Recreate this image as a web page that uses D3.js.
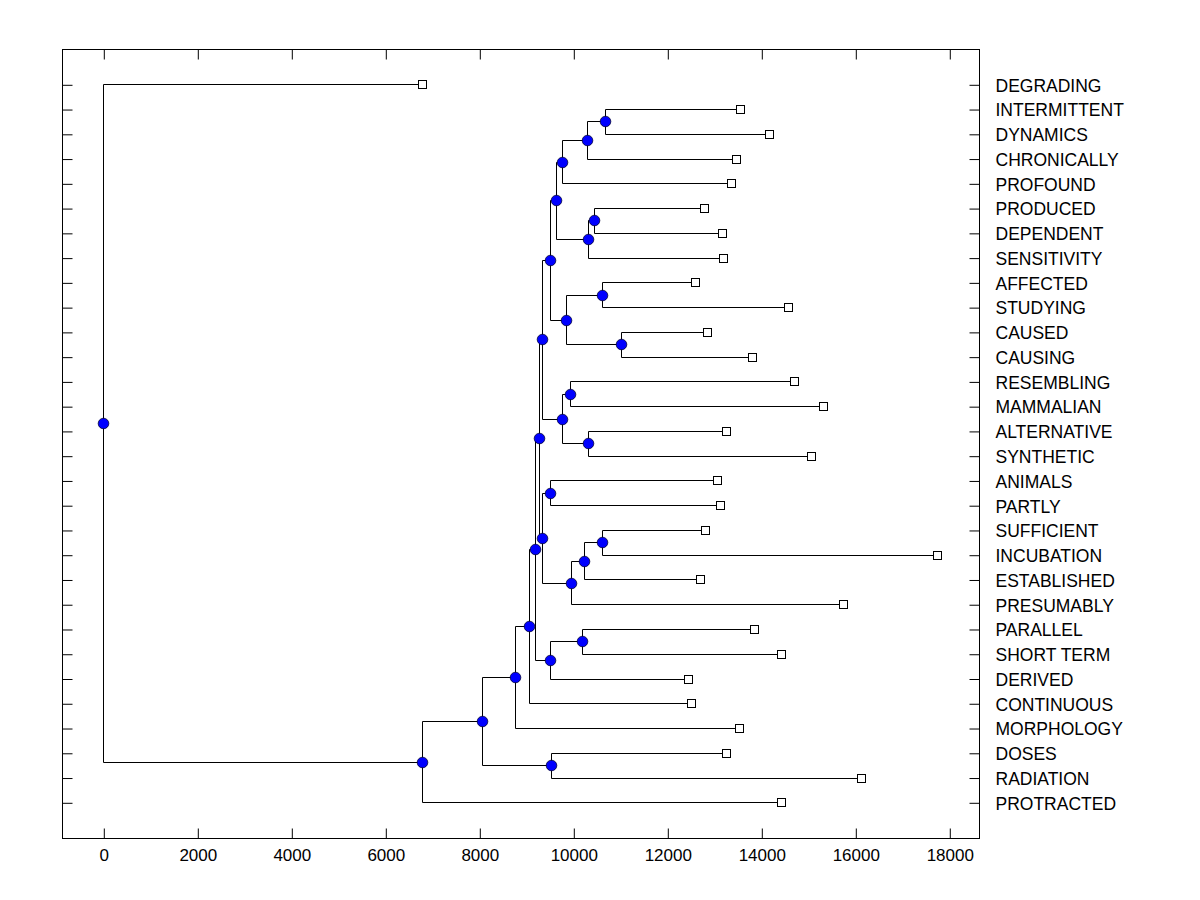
<!DOCTYPE html>
<html>
<head>
<meta charset="utf-8">
<script src="https://cdn.jsdelivr.net/npm/d3@7"></script>
<style>
  body { margin: 0; background: #fff; }
  svg { display: block; }
</style>
</head>
<body>
<div id="chart"></div>
<script>
// Leaf words, top to bottom, and the height at which each leaf square sits
const leafNames = [
  'DEGRADING', 'INTERMITTENT', 'DYNAMICS', 'CHRONICALLY', 'PROFOUND',
  'PRODUCED', 'DEPENDENT', 'SENSITIVITY', 'AFFECTED', 'STUDYING',
  'CAUSED', 'CAUSING', 'RESEMBLING', 'MAMMALIAN', 'ALTERNATIVE',
  'SYNTHETIC', 'ANIMALS', 'PARTLY', 'SUFFICIENT', 'INCUBATION',
  'ESTABLISHED', 'PRESUMABLY', 'PARALLEL', 'SHORT TERM', 'DERIVED',
  'CONTINUOUS', 'MORPHOLOGY', 'DOSES', 'RADIATION', 'PROTRACTED'
];
const leafHeights = [
  6787, 13553, 14170, 13468, 13362,
  12787, 13170, 13191, 12596, 14574,
  12851, 13809, 14702, 15319, 13255,
  15064, 13064, 13128, 12809, 17745,
  12702, 15745, 13851, 14426, 12447,
  12511, 13532, 13255, 16128, 14426
];

// Merges: id, its two children (leaf names or earlier ids), and its height
const mergeIds = [
  'A', 'B', 'C', 'E', 'F', 'D', 'I', 'J', 'H', 'G',
  'M', 'N', 'L', 'K', 'R', 'U', 'T', 'S', 'P', 'O',
  'X', 'W', 'Q', 'Y', 'Z', 'AB', 'AA', 'AC', 'ROOT'
];
const mergeChildren = [
  ['INTERMITTENT', 'DYNAMICS'], ['A', 'CHRONICALLY'], ['B', 'PROFOUND'],
  ['PRODUCED', 'DEPENDENT'], ['E', 'SENSITIVITY'], ['C', 'F'],
  ['AFFECTED', 'STUDYING'], ['CAUSED', 'CAUSING'], ['I', 'J'], ['D', 'H'],
  ['RESEMBLING', 'MAMMALIAN'], ['ALTERNATIVE', 'SYNTHETIC'], ['M', 'N'], ['G', 'L'],
  ['ANIMALS', 'PARTLY'], ['SUFFICIENT', 'INCUBATION'], ['U', 'ESTABLISHED'],
  ['T', 'PRESUMABLY'], ['R', 'S'], ['K', 'P'],
  ['PARALLEL', 'SHORT TERM'], ['X', 'DERIVED'], ['O', 'W'], ['Q', 'CONTINUOUS'],
  ['Y', 'MORPHOLOGY'], ['DOSES', 'RADIATION'], ['Z', 'AB'], ['AA', 'PROTRACTED'],
  ['DEGRADING', 'AC']
];
const mergeHeights = [
  10681, 10298, 9766, 10434, 10319, 9638, 10617, 11021, 9851, 9504,
  9936, 10319, 9766, 9334, 9504, 10617, 10234, 9957, 9334, 9277,
  10191, 9504, 9191, 9064, 8766, 9532, 8064, 6787, 0
];

const xTicks = [0, 2000, 4000, 6000, 8000, 10000, 12000, 14000, 16000, 18000];
const xExtent = [-879, 18632];

const W = 1200, H = 900;
const frame = { left: 62, right: 979, top: 49, bottom: 838 };
const FONT = "Arial, 'Liberation Sans', sans-serif";

const svg = d3.select('#chart').append('svg')
  .attr('width', W)
  .attr('height', H);

const x = d3.scaleLinear().domain(xExtent).range([frame.left, frame.right]);
const y = d3.scalePoint().domain(leafNames).range([84.3, 802.3]);

// build node table
const nodes = {};
leafNames.forEach((name, i) => {
  nodes[name] = { id: name, h: leafHeights[i], y: y(name), leaf: true };
});
mergeIds.forEach((id, i) => {
  const [a, b] = mergeChildren[i];
  nodes[id] = {
    id: id,
    h: mergeHeights[i],
    y: (nodes[a].y + nodes[b].y) / 2,
    leaf: false,
    children: [nodes[a], nodes[b]]
  };
});
const internal = mergeIds.map(id => nodes[id]);

// frame
svg.append('rect')
  .attr('x', frame.left + 0.5)
  .attr('y', frame.top + 0.5)
  .attr('width', frame.right - frame.left)
  .attr('height', frame.bottom - frame.top)
  .attr('fill', 'none')
  .attr('stroke', '#000')
  .attr('stroke-width', 1);

// axes (ticks point inward)
const bottomAxis = d3.axisBottom(x).tickValues(xTicks).tickFormat(d3.format('d'))
  .tickSizeInner(-10).tickSizeOuter(0).tickPadding(10);
const topAxis = d3.axisTop(x).tickValues(xTicks).tickSizeInner(-10).tickSizeOuter(0).tickFormat('');
const leftAxis = d3.axisLeft(y).tickSizeInner(-10).tickSizeOuter(0).tickFormat('');
const rightAxis = d3.axisRight(y).tickSizeInner(-10).tickSizeOuter(0).tickPadding(16);

function styleAxis(g) {
  g.select('.domain').remove();
  g.selectAll('.tick line').attr('stroke', '#000').attr('stroke-width', 1);
  g.selectAll('.tick text')
    .attr('fill', '#000')
    .attr('font-family', FONT)
    .attr('font-size', '17px');
}

svg.append('g').attr('transform', `translate(0.5,${frame.bottom + 0.5})`).call(bottomAxis).call(styleAxis);
svg.append('g').attr('transform', `translate(0.5,${frame.top + 0.5})`).call(topAxis).call(styleAxis);
svg.append('g').attr('transform', `translate(${frame.left + 0.5},0.5)`).call(leftAxis).call(styleAxis);
svg.append('g').attr('transform', `translate(${frame.right + 0.5},0.5)`).call(rightAxis).call(styleAxis)
  .selectAll('.tick text').attr('dy', '0.36em').attr('font-size', '17.5px');

// dendrogram links: vertical at parent height, horizontal out to each child
const links = svg.append('g').attr('class', 'links')
  .attr('fill', 'none')
  .attr('stroke', '#000')
  .attr('stroke-width', 1);

internal.forEach(n => {
  const px = Math.round(x(n.h)) + 0.5;
  const [c1, c2] = n.children;
  links.append('path')
    .attr('d', `M${px},${Math.round(c1.y) + 0.5}V${Math.round(c2.y) + 0.5}`);
  n.children.forEach(c => {
    links.append('path')
      .attr('d', `M${px},${Math.round(c.y) + 0.5}H${Math.round(x(c.h)) + 0.5}`);
  });
});

// leaves: white squares
svg.append('g').selectAll('rect.leaf')
  .data(leafNames.map(n => nodes[n]))
  .join('rect')
  .attr('class', 'leaf')
  .attr('x', d => Math.round(x(d.h)) - 3.5)
  .attr('y', d => Math.round(d.y) - 3.5)
  .attr('width', 8)
  .attr('height', 8)
  .attr('fill', '#fff')
  .attr('stroke', '#000')
  .attr('stroke-width', 1);

// internal nodes: blue dots
svg.append('g').selectAll('circle.node')
  .data(internal)
  .join('circle')
  .attr('class', 'node')
  .attr('cx', d => Math.round(x(d.h)) + 0.5)
  .attr('cy', d => Math.round(d.y) + 0.5)
  .attr('r', 5.3)
  .attr('fill', '#0000ff')
  .attr('stroke', '#000033')
  .attr('stroke-width', 0.8);
</script>
</body>
</html>
